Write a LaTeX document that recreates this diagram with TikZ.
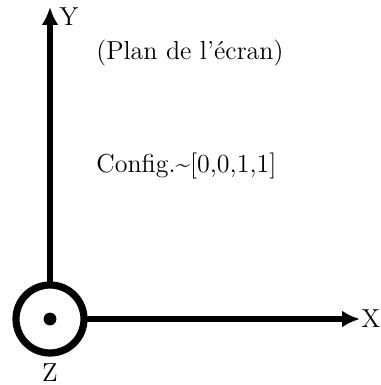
\documentclass[tikz,border=0pt]{standalone}
\usetikzlibrary{arrows.meta}
\begin{document}
\begin{tikzpicture}[x=0.5pt,y=-0.5pt,
  axis/.style={line width=3.3pt,-{Latex[length=9pt,width=8.5pt]}},
  lbl/.style={font=\fontsize{13}{15}\selectfont,inner sep=0pt}]
\useasboundingbox (0,0) rectangle (380,385);
\node[circle,draw,line width=3.6pt,minimum size=34pt,inner sep=0pt,outer sep=0pt] (o) at (50,319) {};
\fill (o.center) circle (3.2pt);
\coordinate (ytip) at (50,7);
\coordinate (xtip) at (360,319);
\draw[axis] (o.north) -- (ytip);
\draw[axis] (o.east) -- (xtip);
\node[lbl,anchor=west] (ly) at (59,17) {Y};
\node[lbl,anchor=west] (lx) at (361,319) {X};
\node[lbl] (lz) at (50,373) {Z};
\node[lbl,anchor=west] (plan) at (96,53) {(Plan de l'écran)};
\node[lbl,anchor=west] (cfg) at (96,166) {Config.\~{}[0,0,1,1]};
\end{tikzpicture}
\end{document}
